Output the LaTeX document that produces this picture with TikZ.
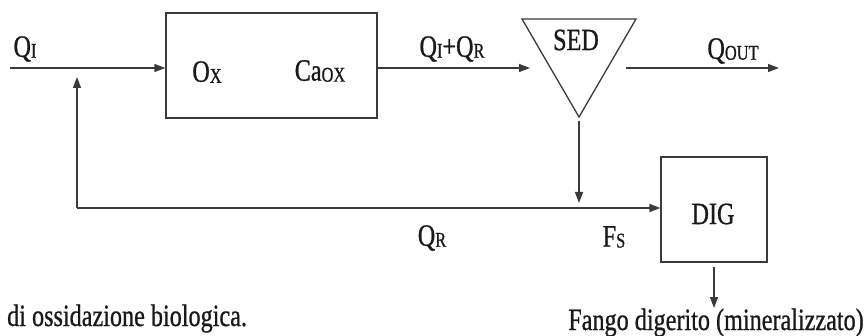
\documentclass[tikz,border=0pt]{standalone}
\usepackage{fontspec}
\setmainfont[FakeStretch=0.78,FakeBold=0.8]{Liberation Serif}
\usetikzlibrary{arrows.meta}
\definecolor{ln}{HTML}{3A3A3A}
\newcommand\sbx[1]{\raisebox{-1pt}{\fontsize{21}{23}\selectfont #1}}
\tikzset{
  lbl/.style={font=\fontsize{31}{33}\selectfont, inner sep=0pt, text=black!90},
  blk/.style={draw=ln, line width=1.3pt, inner sep=0pt},
  arr/.style={draw=ln, line width=1.3pt, -{Triangle[length=11pt,width=8pt]}},
  ln/.style={draw=ln, line width=1.3pt}
}
\begin{document}
\begin{tikzpicture}[x=1pt,y=-1pt]
\useasboundingbox (0,0) rectangle (866,336);
% blocks
\node[blk, minimum width=211pt, minimum height=105pt] (ox) at (271.5,65.5) {};
\node[blk, minimum width=106pt, minimum height=105pt] (dig) at (714,209.5) {};
% sedimenter triangle
\coordinate (tl) at (522,19);
\coordinate (tr) at (636,19);
\coordinate (tb) at (579,117);
\draw[ln, line join=miter] (tl) -- (tr) -- (tb) -- cycle;
% coordinates
\coordinate (qin) at (10,68);
\coordinate (sedin) at (530,68);
\coordinate (outs) at (626,68);
\coordinate (oute) at (779,68);
\coordinate (rc) at (77,208);
\coordinate (rtip) at (77,77);
\coordinate (sdtop) at (579,121);
\coordinate (sdtip) at (579,203);
\coordinate (fango) at (714,308);
% connectors
\draw[arr] (qin) -- (qin -| ox.west);
\draw[arr] (qin -| ox.east) -- (sedin);
\draw[arr] (outs) -- (oute);
\draw[arr] (rc) -- (rtip);
\draw[arr] (rc) -- (rc -| dig.west);
\draw[arr] (sdtop) -- (sdtip);
\draw[arr] (dig.south |- 0,267) -- (fango);
% labels
\node[lbl] (lqi) at (25,49) {Q\sbx{I}};
\node[lbl] (lox) at (207,72) {O\sbx{X}};
\node[lbl] (lca) at (320,71) {Ca\sbx{OX}};
\node[lbl] (lqiqr) at (452,49) {Q\sbx{I}+Q\sbx{R}};
\node[lbl] (lsed) at (576,40) {SED};
\node[lbl] (lqout) at (733,51) {Q\sbx{OUT}};
\node[lbl] (ldig) at (713,214) {DIG};
\node[lbl] (lqr) at (432,238) {Q\sbx{R}};
\node[lbl] (lfs) at (614,237) {F\sbx{S}};
\node[lbl, anchor=base west] (cap1) at (7,326) {di ossidazione biologica.};
\node[lbl, anchor=base] (cap2) at (716,330) {Fango digerito (mineralizzato)};
\end{tikzpicture}
\end{document}
